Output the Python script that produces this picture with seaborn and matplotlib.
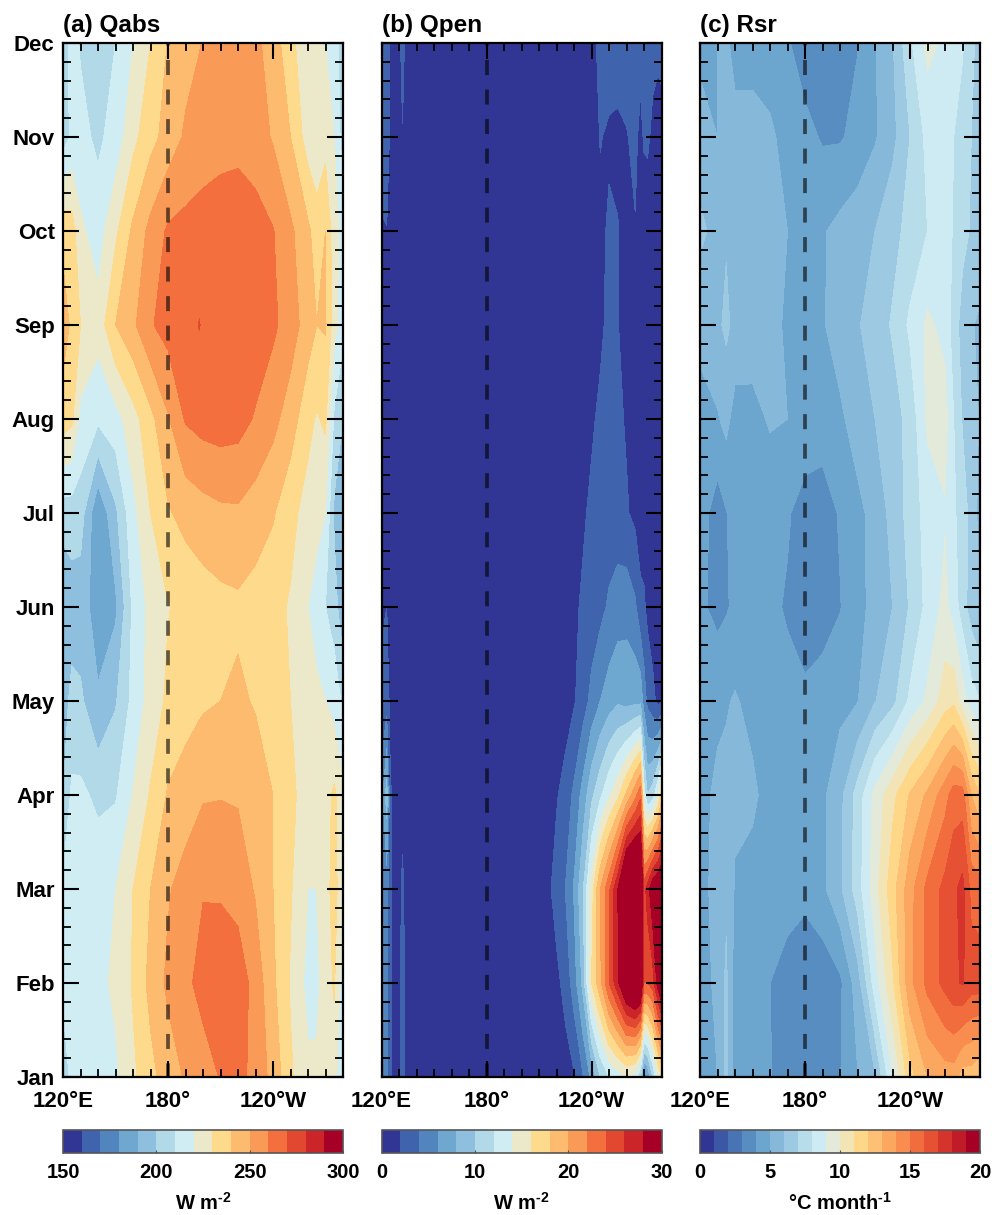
import numpy as np
import seaborn as sns
import matplotlib
matplotlib.use('Agg')
import matplotlib.pyplot as plt
import matplotlib.ticker as ticker
from matplotlib.cm import ScalarMappable
from matplotlib.colors import BoundaryNorm, ListedColormap

months = ['Jan', 'Feb', 'Mar', 'Apr', 'May', 'Jun', 'Jul', 'Aug', 'Sep', 'Oct', 'Nov', 'Dec']
month_idx = np.arange(12)

# rows run Jan -> Dec
lon_a = [120, 125, 130, 140, 150, 160, 170, 180, 190, 198, 200, 210, 220, 230, 240, 250, 260, 265, 270, 275, 280]
qabs = [
    [205, 212, 213, 215, 218, 228, 237, 245, 251, 255, 256, 260.5, 264, 256, 247, 231.5, 222, 222, 224, 226, 205],
    [212, 220, 214, 217, 222, 231, 243, 252, 258, 262, 263, 268, 266, 256, 242, 229, 217, 217, 226, 231, 214],
    [212, 216, 214, 216, 220, 230, 240, 249, 254, 258.5, 259.5, 258.5, 256, 249, 240, 231, 220, 220, 228, 232, 226],
    [200, 212, 212, 208, 209, 220.5, 231, 241, 245, 248, 249, 249.5, 249, 246, 240, 233, 224, 223, 226, 232, 222],
    [195, 203, 202, 191, 199, 213, 224, 232, 235.5, 238, 238.5, 240, 242, 239, 235, 230, 224, 222, 220, 216, 208],
    [190, 195, 194, 186, 188, 212, 223, 229.5, 233, 234.6, 235, 237, 238, 236, 233, 229, 220, 216, 210, 205, 192],
    [205, 205, 205, 181, 198, 217, 230, 239, 243, 245.4, 246, 248, 248.5, 245, 241, 233, 226, 223, 220, 198, 190],
    [235, 232, 217, 212, 216, 226, 237, 249, 261, 263.4, 264, 265, 264, 259, 253, 245, 233, 229, 232, 208, 200],
    [245, 238, 230, 224, 240, 248, 259, 264, 266, 270.4, 268, 269, 268, 266, 262, 255, 245, 240, 241, 224, 213],
    [237, 235, 222, 215, 228, 242, 253, 261.5, 263, 264.6, 265, 266, 266, 264, 260.5, 252, 242, 235, 240, 224, 216],
    [205, 212, 213, 208, 214, 227, 236.5, 244, 251.5, 253.5, 254, 256, 257, 255, 249, 240, 225, 222, 226, 220, 205],
    [204, 214, 209, 207, 210, 220, 230, 240.5, 246, 249.6, 250.5, 253, 254, 252, 246, 232, 225, 222, 220, 215, 204],
]

lon_b = [120, 123, 125, 129, 132, 135, 180, 215, 220, 225, 230, 235, 240, 245, 250, 255, 260, 265, 268, 270, 272, 275, 278, 280]
qpen = [
    [5, 5, 2.2, 1, 2.6, 1, 1, 1, 1, 1.2, 1.8, 3.8, 6.5, 10, 12, 13, 14, 13, 10, 5, 6, 10, 14, 16],
    [5, 5, 2.2, 1, 2.6, 1, 1, 1, 1.5, 2.6, 5, 8.5, 16, 19.5, 24, 27.5, 32, 34, 33, 24, 24, 25, 29, 31],
    [5, 5, 2.2, 1, 2.3, 1, 1, 1.5, 2.8, 4, 6.2, 9.7, 15, 20, 23.5, 28, 35, 36, 35, 25, 27, 30, 31, 32],
    [5, 9, 2.2, 1, 1.5, 1, 1, 1, 1.8, 2.8, 4.4, 6.7, 9.5, 11.6, 13.7, 15.5, 18.4, 21.4, 23.5, 13, 10, 11, 14, 17],
    [2.5, 3, 1.5, 1, 1, 1, 1, 1, 1, 1, 1.8, 3, 4.6, 6, 7, 7.7, 7.3, 7.5, 7.5, 5, 3.5, 2.5, 1.5, 1.8],
    [1.7, 2, 1.2, 1, 1, 1, 1, 1, 1, 1, 1.6, 2.3, 2.8, 3.4, 4.3, 5, 5.3, 4.3, 2.5, 2.3, 1.5, 1, 1, 1],
    [1, 1, 1, 1, 1, 1, 1, 1, 1, 1, 1, 1.7, 2.4, 2.7, 2.9, 2.8, 2.2, 1.5, 1, 1, 1, 1, 1, 1],
    [1, 1, 1, 1, 1, 1, 1, 1, 1, 1, 1, 1, 1.7, 2.4, 2.6, 2.4, 1.8, 1, 1, 1, 1, 1, 1, 1],
    [1, 1, 1, 1, 1, 1, 1, 1, 1, 1, 1, 1, 1, 1.6, 2.5, 2.1, 1, 1, 1, 1, 1, 1, 1, 1],
    [1.8, 1.9, 1, 1, 1, 1, 1, 1, 1, 1, 1, 1, 1, 1.5, 2.3, 2.1, 1.3, 1.9, 1, 1, 1, 1, 1, 1],
    [3, 3.5, 1.5, 1, 1.9, 1, 1, 1, 1, 1, 1, 1, 1, 2.1, 1.7, 1.5, 1.9, 2.4, 1.5, 2.2, 2.3, 1.6, 1, 1],
    [3, 3.3, 1.5, 1, 2.6, 1, 1, 1, 1, 1, 1, 1, 1.5, 2.4, 3, 3.1, 2.8, 2.6, 2.6, 2.7, 2.6, 2.5, 2.5, 2.8],
]

lon_c = [120, 130, 135, 140, 150, 160, 170, 180, 190, 200, 210, 220, 230, 240, 250, 260, 265, 270, 275, 280]
rsr = [
    [4.5, 5, 6.3, 4.5, 4.3, 4.05, 3.6, 3.4, 3.5, 3.95, 4.95, 5.9, 8.9, 11.6, 13, 13.5, 13.5, 12.5, 12.5, 12],
    [4.6, 5.2, 6.2, 4.5, 4.3, 4.0, 3.6, 3.2, 3.3, 3.8, 5.5, 8.5, 10.8, 13.7, 15.3, 16.3, 16.8, 17.1, 16.5, 16.5],
    [4.5, 5.5, 5.8, 4.9, 4.6, 4.5, 4.4, 4.3, 4.8, 5.8, 7.5, 9.6, 11.6, 13.6, 15.3, 16.3, 16.8, 17.3, 15.7, 15.5],
    [4.7, 5.2, 5.3, 5.2, 5.2, 4.6, 4.4, 4.3, 4.8, 5.7, 7.4, 9.3, 10.7, 12.1, 13.2, 14.6, 15.5, 15.5, 13, 12],
    [4.2, 4.8, 4.9, 5.1, 4.7, 4.4, 4.3, 4.2, 4.4, 4.7, 4.95, 5.95, 6.7, 8.2, 9.2, 10.5, 10.8, 9.5, 8.5, 8],
    [4.2, 3.7, 3.9, 4.2, 4.3, 4.2, 3.9, 3.5, 3.6, 3.95, 4.7, 5.3, 6, 7.1, 8.3, 9.3, 8.5, 7.5, 6.5, 6],
    [4.5, 3.5, 3.95, 4.4, 4.5, 4.4, 4.1, 3.6, 3.5, 4.1, 4.7, 5.4, 6.3, 7.4, 8.4, 8.9, 8.1, 7.7, 6.5, 5.7],
    [4.5, 4.9, 5.3, 4.6, 4.7, 5.1, 5.0, 4.6, 4.5, 4.8, 5.5, 6.0, 6.6, 7.3, 9.2, 9.4, 8, 6.9, 6.5, 5.9],
    [5.4, 5.8, 6.2, 5.7, 5.5, 5.2, 4.9, 4.4, 4.9, 5.5, 5.9, 6.5, 7.1, 8.2, 9.2, 8.7, 7.5, 6.6, 6.1, 5.8],
    [6.2, 5.7, 5.9, 6.0, 5.7, 5.3, 5.0, 4.5, 4.9, 5.3, 5.6, 6.0, 6.7, 7.3, 8, 8.9, 7.8, 7.3, 6.9, 6.7],
    [5.5, 5.0, 5.3, 5.2, 5.3, 5.1, 4.8, 4.3, 3.9, 3.9, 4.3, 4.9, 5.7, 7, 8.3, 8.2, 8, 7.6, 7, 6.5],
    [4.7, 5, 5.1, 4.8, 4.7, 4.7, 4.1, 3.5, 3.3, 3.5, 3.95, 4.9, 5.9, 7.8, 9.3, 8.8, 8.5, 8.1, 7.3, 6.5],
]

titles = ['(a) Qabs', '(b) Qpen', '(c) Rsr']
units = ['W m$^{\\text{-2}}$', 'W m$^{\\text{-2}}$', '\N{DEGREE SIGN}C month$^{\\text{-1}}$']
ranges = [(150, 300, 10), (0, 30, 2), (0, 20, 1)]
cbar_ticks = [[150, 200, 250, 300], [0, 10, 20, 30], [0, 5, 10, 15, 20]]

anchors = ['#313695', '#4064ad', '#5286bd', '#6fa8d0', '#8fbfde', '#b2d9e8', '#d2edf4', '#ece9cc',
           '#fedc8c', '#fdbb6f', '#fa9a57', '#f4713f', '#e34930', '#cb2529', '#a70026']

sns.set_theme(style='ticks', rc={'axes.edgecolor': 'black', 'xtick.color': 'black', 'ytick.color': 'black',
                                 'text.color': 'black', 'axes.labelcolor': 'black', 'axes.axisbelow': False})
plt.rcParams['font.family'] = ['Liberation Sans', 'DejaVu Sans']
plt.rcParams['font.weight'] = 'bold'
plt.rcParams['mathtext.fontset'] = 'custom'
plt.rcParams['mathtext.rm'] = 'Liberation Sans:bold'
plt.rcParams['mathtext.bf'] = 'Liberation Sans:bold'

W, H = 992.0, 1215.0
fig = plt.figure(figsize=(9.92, 12.15), dpi=100)
lefts = [63, 381.5, 700]

fields = [(lon_a, qabs), (lon_b, qpen), (lon_c, rsr)]
for i, (lon, field) in enumerate(fields):
    ax = fig.add_axes([lefts[i] / W, 1 - 1077 / H, 280 / W, 1034 / H])
    lo, hi, step = ranges[i]
    levels = np.arange(lo, hi + step, step)
    colors = sns.blend_palette(anchors, n_colors=len(levels) - 1)
    cmap = ListedColormap(colors)
    cmap.set_over(colors[-1])
    cmap.set_under(colors[0])
    ax.contourf(lon, month_idx, np.array(field, dtype=float), levels=levels, cmap=cmap, extend='both')

    # dashed date line
    ax.plot([180, 180], [11, 0], color='black', alpha=0.6, lw=2.7,
            linestyle=(3.33, (4.0, 3.87)), dash_capstyle='butt', zorder=3)

    ax.set_xlim(120, 280)
    ax.set_ylim(0, 11)
    ax.set_xticks([120, 180, 240])
    ax.set_xticklabels(['120\N{DEGREE SIGN}E', '180\N{DEGREE SIGN}', '120\N{DEGREE SIGN}W'], fontsize=16)
    ax.xaxis.set_minor_locator(ticker.MultipleLocator(10))
    ax.set_yticks(month_idx)
    ax.yaxis.set_minor_locator(ticker.MultipleLocator(0.2))
    if i == 0:
        ax.set_yticklabels(months, fontsize=16)
    else:
        ax.set_yticklabels([])
    ax.tick_params(which='major', direction='in', top=True, right=True, length=11.5, width=1.5, pad=6)
    ax.tick_params(which='minor', direction='in', top=True, right=True, length=6, width=1.3)
    ax.tick_params(axis='x', which='major', pad=10)
    for s in ax.spines.values():
        s.set_linewidth(1.6)
    ax.text(0, 1.0106, titles[i], transform=ax.transAxes, ha='left', va='baseline', fontsize=17.5, fontweight='bold')

    cax = fig.add_axes([lefts[i] / W, 1 - 1153 / H, 280 / W, 23 / H])
    sm = ScalarMappable(norm=BoundaryNorm(levels, len(colors)), cmap=cmap)
    cb = fig.colorbar(sm, cax=cax, orientation='horizontal', ticks=cbar_ticks[i], extend='neither', spacing='proportional')
    cb.outline.set_edgecolor('#555555')
    cb.outline.set_linewidth(1.2)
    cb.ax.tick_params(direction='in', length=2, width=0.8, color='#555555', labelsize=14.5, pad=7)
    cb.ax.minorticks_off()
    cb.set_label(units[i], fontsize=14.5, fontweight='bold', labelpad=7)

fig.savefig('out.png', dpi=100)
